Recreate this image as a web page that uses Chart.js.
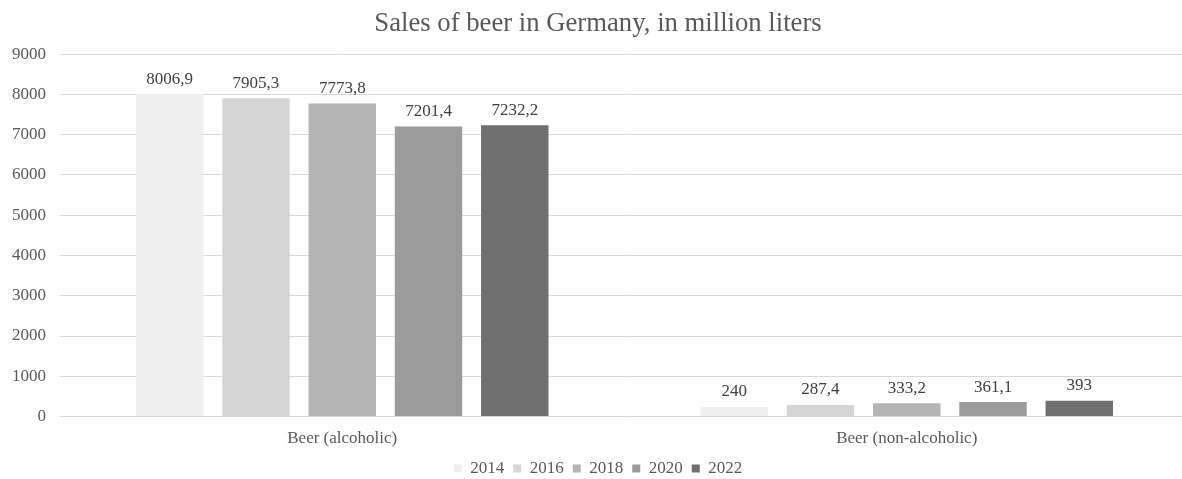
<!DOCTYPE html>
<html>
<head>
<meta charset="utf-8">
<script src="https://cdn.jsdelivr.net/npm/chart.js@4/dist/chart.umd.min.js"></script>
<style>
  html, body { margin: 0; padding: 0; background: #fff; overflow: hidden; }
  #wrap { width: 1190px; height: 479px; position: relative; }
</style>
</head>
<body>
<div id="wrap"><canvas id="chart"></canvas></div>
<script>
const categories = ['Beer (alcoholic)', 'Beer (non-alcoholic)'];
const years = ['2014', '2016', '2018', '2020', '2022'];
const sales2014 = [8006.9, 240];
const sales2016 = [7905.3, 287.4];
const sales2018 = [7773.8, 333.2];
const sales2020 = [7201.4, 361.1];
const sales2022 = [7232.2, 393];
const seriesValues = [sales2014, sales2016, sales2018, sales2020, sales2022];
const yTicks = [0, 1000, 2000, 3000, 4000, 5000, 6000, 7000, 8000, 9000];

const barColors = ['#eeeeee', '#d5d5d5', '#b4b4b4', '#9b9b9b', '#707070'];
const serif = '"Liberation Serif", "Times New Roman", serif';
const textGray = '#595959';

// German-style decimal comma for the value labels
const fmt = v => String(v).replace('.', ',');

const valueLabels = {
  id: 'valueLabels',
  afterDatasetsDraw(chart) {
    const ctx = chart.ctx;
    ctx.save();
    ctx.font = '17px ' + serif;
    ctx.fillStyle = '#404040';
    ctx.textAlign = 'center';
    ctx.textBaseline = 'middle';
    chart.data.datasets.forEach((ds, i) => {
      chart.getDatasetMeta(i).data.forEach((bar, j) => {
        ctx.fillText(fmt(ds.data[j]), bar.x, bar.y - 15);
      });
    });
    ctx.restore();
  }
};

new Chart(document.getElementById('chart'), {
  type: 'bar',
  data: {
    labels: categories,
    datasets: years.map((y, i) => ({
      label: y,
      data: seriesValues[i],
      backgroundColor: barColors[i],
      borderWidth: 0,
      categoryPercentage: 0.764,
      barPercentage: 0.782
    }))
  },
  options: {
    responsive: true,
    maintainAspectRatio: false,
    animation: false,
    layout: { padding: { left: 7, right: 1, top: 0, bottom: -8 } },
    plugins: {
      title: {
        display: true,
        text: 'Sales of beer in Germany, in million liters',
        color: textGray,
        font: { family: serif, size: 26.7, weight: 'normal' },
        padding: { top: 8, bottom: 14 }
      },
      legend: {
        position: 'bottom',
        labels: {
          color: textGray,
          font: { family: serif, size: 17 },
          boxWidth: 8,
          boxHeight: 8,
          padding: 9
        }
      },
      tooltip: { enabled: false }
    },
    scales: {
      x: {
        afterFit: s => { s.height = 34.4; },
        grid: { display: false, drawTicks: false },
        border: { display: false },
        ticks: {
          color: textGray,
          font: { family: serif, size: 17 },
          padding: 12
        }
      },
      y: {
        min: 0,
        max: 9000,
        afterBuildTicks: s => { s.ticks = yTicks.map(v => ({ value: v })); },
        afterFit: s => { s.width = 53; },
        grid: { color: '#d9d9d9', lineWidth: 1, drawTicks: false },
        border: { display: false },
        ticks: {
          color: textGray,
          font: { family: serif, size: 17 },
          padding: 14,
          callback: v => String(v)
        }
      }
    }
  },
  plugins: [valueLabels]
});
</script>
</body>
</html>
